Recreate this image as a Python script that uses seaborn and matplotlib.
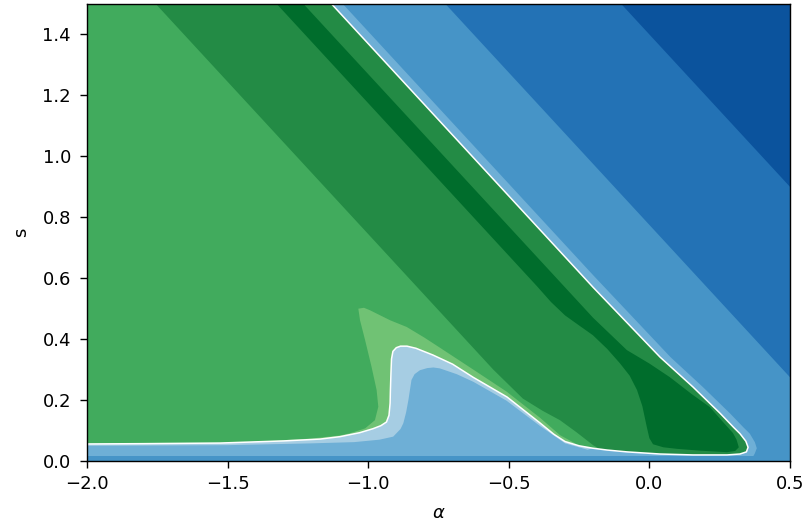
import numpy as np
import matplotlib
matplotlib.use("Agg")
import matplotlib.pyplot as plt
import seaborn as sns

# region colours (Greens / Blues contour levels)
g0, g1, g2, g3 = '#70c274', '#41ab5d', '#238b45', '#006d2c'
b1, b2, b3, b4, b5 = '#a6cde3', '#6eafd6', '#4694c7', '#2372b5', '#0b539d'

# contour boundaries, in (alpha, s)
b5_edge_alpha = [-0.10, 0.50]
b5_edge_s = [1.50, 0.90]
b4_edge_alpha = [-0.725, 0.50]
b4_edge_s = [1.50, 0.275]

b23_alpha = [-1.09, -0.60, -0.20, 0.075, 0.19, 0.286, 0.335, 0.357, 0.375, 0.382, 0.375, 0.36, -2.0, -2.0]
b23_s = [1.50, 1.01, 0.61, 0.341, 0.243, 0.157, 0.110, 0.090, 0.062, 0.042, 0.025, 0.0, 0.0, 1.50]

white_diag_alpha = [-1.13, -0.60, -0.20, 0.038, 0.155, 0.251, 0.300, 0.322, 0.343, 0.351, 0.345,
                    0.322, 0.276, 0.155, 0.038, -0.08, -0.15]
white_diag_s = [1.50, 0.97, 0.57, 0.341, 0.243, 0.157, 0.110, 0.090, 0.065, 0.045, 0.030,
                0.023, 0.020, 0.020, 0.023, 0.030, 0.036]
white_hump_alpha = [-0.201, -0.25, -0.30, -0.34, -0.389, -0.506, -0.627, -0.700, -0.770, -0.830, -0.862,
                    -0.885, -0.900, -0.912, -0.917, -0.919, -0.921, -0.922, -0.926, -0.935, -0.955, -0.983,
                    -1.030, -1.100, -1.171, -1.300, -1.527, -1.800, -2.0]
white_hump_s = [0.042, 0.050, 0.064, 0.088, 0.125, 0.210, 0.275, 0.318, 0.348, 0.370, 0.377,
                0.377, 0.372, 0.360, 0.335, 0.289, 0.230, 0.190, 0.150, 0.128, 0.116, 0.106,
                0.093, 0.080, 0.072, 0.066, 0.059, 0.057, 0.056]

g12_alpha = [-1.755, -0.555, -0.45, -0.38, -0.318, -0.26, -0.20, -0.176]
g12_s = [1.50, 0.30, 0.205, 0.165, 0.134, 0.095, 0.052, 0.039]

g3_alpha = [-1.325, -0.40, -0.35, -0.30, -0.25, -0.201, -0.150, -0.105, -0.070, -0.044, -0.025, -0.009,
            0.000, 0.013, 0.05, 0.098, 0.18, 0.276, 0.305, 0.318, 0.310, 0.297, 0.260, 0.215, 0.150,
            0.073, 0.0, -0.080, -0.20, -0.318, -1.23]
g3_s = [1.50, 0.574, 0.522, 0.478, 0.445, 0.413, 0.368, 0.321, 0.280, 0.233, 0.180, 0.111,
        0.075, 0.055, 0.045, 0.040, 0.034, 0.029, 0.033, 0.045, 0.070, 0.092, 0.130, 0.177, 0.220,
        0.275, 0.320, 0.364, 0.47, 0.588, 1.50]

halo_alpha = [-1.35, -1.2, -1.10, -1.065, -1.011, -0.976, -0.964, -0.970, -0.988, -1.011, -1.029, -1.035,
              -1.015, -0.994, -0.922, -0.863, -0.80, -0.745, -0.626, -0.508, -0.389, -0.318, -0.26]
halo_s = [0.066, 0.074, 0.084, 0.091, 0.107, 0.134, 0.178, 0.233, 0.309, 0.397, 0.462, 0.500,
          0.503, 0.495, 0.462, 0.440, 0.405, 0.372, 0.300, 0.228, 0.142, 0.085, 0.056]

inner_alpha = [-2.0, -1.5, -1.2, -1.05, -0.96, -0.911, -0.885, -0.875, -0.865, -0.857, -0.846, -0.835,
               -0.816, -0.790, -0.768, -0.745, -0.685, -0.626, -0.508, -0.389, -0.30, -0.22]
inner_s = [0.050, 0.052, 0.058, 0.062, 0.070, 0.080, 0.105, 0.124, 0.160, 0.200, 0.266, 0.285,
           0.298, 0.305, 0.307, 0.304, 0.285, 0.260, 0.198, 0.115, 0.058, 0.037]

strip_alpha = [-2.0, 0.5]
strip_top = 0.018

sns.set_style("ticks")
plt.rcParams['font.family'] = ['DejaVu Sans']
plt.rcParams.update({
    'font.size': 13,
    'text.color': 'black',
    'axes.labelcolor': 'black',
    'axes.edgecolor': 'black',
    'axes.linewidth': 1.0,
    'xtick.color': 'black',
    'ytick.color': 'black',
    'xtick.major.size': 5,
    'ytick.major.size': 5,
    'xtick.major.width': 1.0,
    'ytick.major.width': 1.0,
    'xtick.major.pad': 5,
    'ytick.major.pad': 6.5,
})

fig, ax = plt.subplots(figsize=(8.09, 5.27), dpi=100)
fig.subplots_adjust(left=0.1075, right=0.9765, top=0.9924, bottom=0.1252)
ax.set_facecolor(b3)

ax.fill(b4_edge_alpha + [0.5], b4_edge_s + [1.5], color=b4, lw=0)
ax.fill(b5_edge_alpha + [0.5], b5_edge_s + [1.5], color=b5, lw=0)
ax.fill(b23_alpha, b23_s, color=b2, lw=0)

ax.fill(white_diag_alpha + white_hump_alpha + [-2.0], white_diag_s + white_hump_s + [1.5], color=g1, lw=0)

wa = np.array(white_hump_alpha)
ws = np.array(white_hump_s)
keep = (wa > -1.35) & (wa < -0.26)
ax.fill(np.r_[halo_alpha, wa[keep]], np.r_[halo_s, ws[keep]], color=g0, lw=0)

ax.fill(g12_alpha + white_diag_alpha[::-1], g12_s + white_diag_s[::-1], color=g2, lw=0)
ax.fill(g3_alpha, g3_s, color=g3, lw=0)

ax.fill(white_hump_alpha + inner_alpha, white_hump_s + inner_s, color=b1, lw=0)
ax.fill_between(strip_alpha, 0, strip_top, color=b3, lw=0)

ax.plot(white_diag_alpha + white_hump_alpha, white_diag_s + white_hump_s, color='white', lw=1.1)

ax.set_xlim(-2.0, 0.5)
ax.set_ylim(0, 1.5)
ax.set_xticks([-2.0, -1.5, -1.0, -0.5, 0.0, 0.5])
ax.set_yticks([0.0, 0.2, 0.4, 0.6, 0.8, 1.0, 1.2, 1.4])
ax.set_xlabel(r'$\alpha$', labelpad=8)
ax.set_ylabel('s', labelpad=9)

plt.savefig('out.png', dpi=100)
